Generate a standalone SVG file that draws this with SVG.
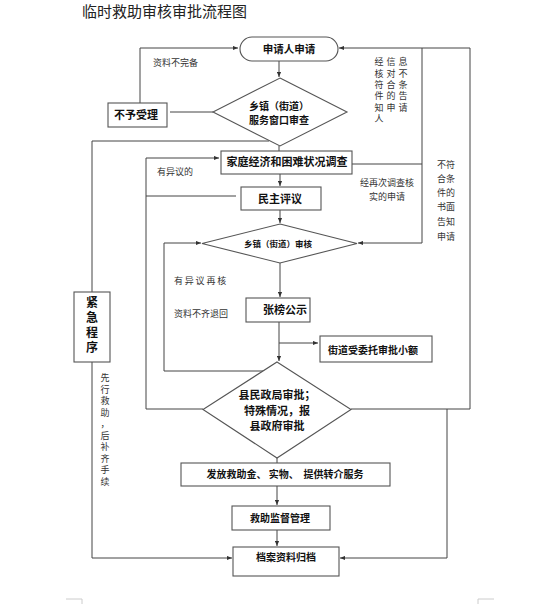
<svg xmlns="http://www.w3.org/2000/svg" width="553" height="604" viewBox="0 0 553 604">
<style>
.bx{fill:#fff;stroke:#555;stroke-width:1.1}
.ln{fill:none;stroke:#444;stroke-width:1}
.t{font-family:"Noto Sans CJK SC","Liberation Sans",sans-serif;font-weight:bold;fill:#111;text-anchor:middle}
.s{font-family:"Noto Sans CJK SC","Liberation Sans",sans-serif;fill:#333;font-size:9px}
.v{font-family:"Noto Sans CJK SC","Liberation Sans",sans-serif;fill:#333;font-size:9px;writing-mode:tb;letter-spacing:2.3px}
.title{font-family:"Noto Sans CJK SC","Liberation Sans",sans-serif;fill:#222;font-size:15px}
</style>
<defs>
<marker id="a" viewBox="0 0 6 6" refX="6" refY="3" markerWidth="5" markerHeight="5" orient="auto"><path d="M0,0.5 L6,3 L0,5.5 z" fill="#333"/></marker>
</defs>
<rect width="553" height="604" fill="#fff"/>
<text class="title" x="82" y="17">临时救助审核审批流程图</text>

<g id="connectors">
<path class="ln" d="M279,61 V77" marker-end="url(#a)"/>
<path class="ln" d="M140,103 V48 H238" marker-end="url(#a)"/>
<path class="ln" d="M213,112 H170"/>
<path class="ln" d="M279,146 V151"/>
<path class="ln" d="M280,174 V186" marker-end="url(#a)"/>
<path class="ln" d="M280,210 V223" marker-end="url(#a)"/>
<path class="ln" d="M470,48 H339" marker-end="url(#a)"/>
<path class="ln" d="M352,164 H422"/>
<path class="ln" d="M422,48 V243 H358" marker-end="url(#a)"/>
<path class="ln" d="M236,196 H146"/>
<path class="ln" d="M203,409 H146 V158 H219" marker-end="url(#a)"/>
<path class="ln" d="M263,371 H164 V243 H201" marker-end="url(#a)"/>
<path class="ln" d="M280,263 V297" marker-end="url(#a)"/>
<path class="ln" d="M279,322 V361" marker-end="url(#a)"/>
<path class="ln" d="M279,343 H318" marker-end="url(#a)"/>
<path class="ln" d="M277,458 V463"/>
<path class="ln" d="M277,486 V505" marker-end="url(#a)"/>
<path class="ln" d="M277,530 V546" marker-end="url(#a)"/>
<path class="ln" d="M351,409 H470 V48"/>
<path class="ln" d="M447,409 V558 H340" marker-end="url(#a)"/>
<path class="ln" d="M269,141 H92 V292"/>
<path class="ln" d="M92,362 V558 H232" marker-end="url(#a)"/>
</g>

<g id="n_start">
<rect class="bx" x="240" y="37" width="98" height="24" rx="12"/>
<text class="t" x="289" y="53" font-size="10.5">申请人申请</text>
</g>

<g id="n_window">
<polygon class="bx" points="280,78 347,112 280,146 213,112"/>
<text class="t" x="279" y="109.5" font-size="10">乡镇（街道）</text>
<text class="t" x="279" y="123.5" font-size="10">服务窗口审查</text>
</g>

<g id="n_reject">
<rect class="bx" x="108" y="103" width="59" height="24"/>
<text class="t" x="136" y="119" font-size="11">不予受理</text>
</g>

<g id="n_survey">
<rect class="bx" x="221" y="151" width="131" height="23"/>
<text class="t" x="287" y="166" font-size="11">家庭经济和困难状况调查</text>
</g>

<g id="n_review">
<rect class="bx" x="241" y="187" width="80" height="23"/>
<text class="t" x="280" y="203" font-size="11">民主评议</text>
</g>

<g id="n_town">
<polygon class="bx" points="280,224 357,243.5 280,263 202,243.5"/>
<text class="t" x="278" y="247" font-size="8.5">乡镇（街道）审核</text>
</g>

<g id="n_public">
<rect class="bx" x="246" y="298" width="64" height="24"/>
<text class="t" x="285" y="314" font-size="11">张榜公示</text>
</g>

<g id="n_street">
<rect class="bx" x="320" y="336" width="112" height="26"/>
<text class="t" x="373" y="353.5" font-size="10">街道受委托审批小额</text>
</g>

<g id="n_county">
<polygon class="bx" points="277,362 351,409.5 277,458 203,409.5"/>
<text class="t" x="277" y="399" font-size="11">县民政局审批；</text>
<text class="t" x="277" y="414.5" font-size="11">特殊情况，报</text>
<text class="t" x="277" y="429.5" font-size="11">县政府审批</text>
</g>

<g id="n_issue">
<rect class="bx" x="181" y="463" width="209" height="23"/>
<text class="t" x="285" y="477.5" font-size="10" xml:space="preserve">发放救助金、 实物、  提供转介服务</text>
</g>

<g id="n_supervise">
<rect class="bx" x="232" y="506" width="98" height="24"/>
<text class="t" x="280" y="521.5" font-size="10">救助监督管理</text>
</g>

<g id="n_archive">
<rect class="bx" x="233" y="547" width="106" height="29"/>
<text class="t" x="286" y="560.5" font-size="10">档案资料归档</text>
</g>

<g id="n_emergency">
<rect class="bx" x="74" y="292" width="36" height="70"/>
<text class="t" font-size="12" x="92 92 92 92" y="306.5 322 337 352">紧急程序</text>
</g>

<g id="labels">
<text class="s" x="153" y="66">资料不完备</text>
<text class="s" x="157" y="174.5" font-size="8.5">有异议的</text>
<text class="s" x="174" y="283.5" font-size="8.5" letter-spacing="1.8">有异议再核</text>
<text class="s" x="174" y="317" font-size="8.5">资料不齐退回</text>
<text class="s" x="387" y="186" text-anchor="middle" font-size="8.7">经再次调查核</text>
<text class="s" x="387" y="199.5" text-anchor="middle" font-size="8.7">实的申请</text>
<text class="v" x="379" y="57.5">经核符件知人</text>
<text class="v" x="391" y="57.5">信对合的申</text>
<text class="v" x="403" y="57.5">息不条告请</text>
<text class="s" x="437" y="168">不符</text>
<text class="s" x="437" y="182">合条</text>
<text class="s" x="437" y="195.5">件的</text>
<text class="s" x="437" y="210">书面</text>
<text class="s" x="437" y="225">告知</text>
<text class="s" x="437" y="240">申请</text>
<text class="s" text-anchor="middle" font-size="8.5" x="105 105 105 105 105 105 105 105 105 105" y="381 392.5 404 415.5 427 438.5 450 461.5 473 484.5">先行救助，后补齐手续</text>
</g>

<g id="pagemarks">
<path d="M66,599 H82 V604" fill="none" stroke="#ccc" stroke-width="1"/>
<path d="M494,599 H478 V604" fill="none" stroke="#ccc" stroke-width="1"/>
</g>
</svg>
